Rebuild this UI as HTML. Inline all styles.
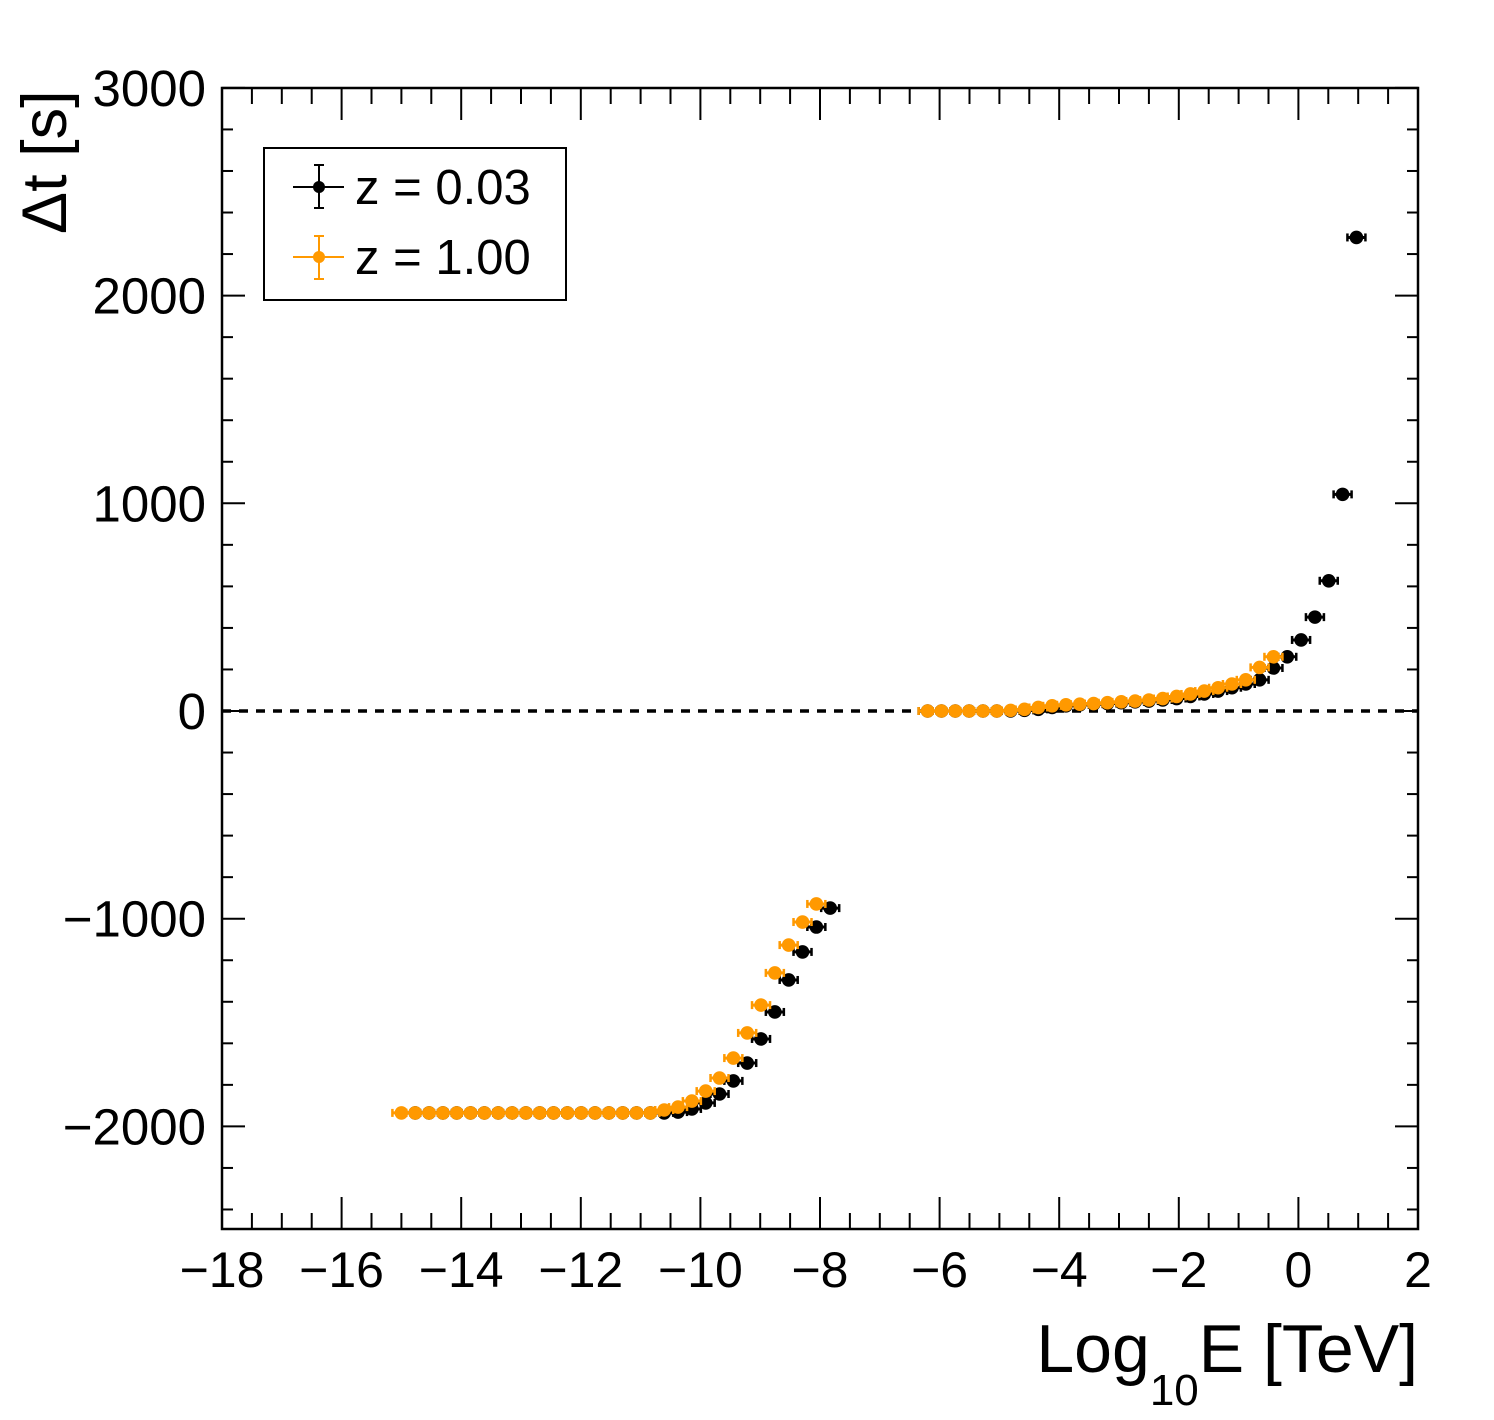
<!DOCTYPE html>
<html><head><meta charset="utf-8"><style>
html,body{margin:0;padding:0;background:#fff;}
svg{display:block;font-family:"Liberation Sans",Arial,sans-serif;}
</style></head><body>
<svg id="chart" width="1494" height="1420" viewBox="0 0 1494 1420">
<g id="grid-layer"></g>
<line x1="222" y1="711" x2="1418" y2="711" stroke="#000" stroke-width="3.5" stroke-dasharray="9,8"/>
<g id="series-layer"></g>
<rect x="222" y="88" width="1196" height="1141" fill="none" stroke="#000" stroke-width="2.5"/>
<text transform="translate(66,234) rotate(-90)" font-size="63">Δt [s]</text>
<text x="1418" y="1372" font-size="68" text-anchor="end">Log<tspan font-size="44" dy="33">10</tspan><tspan dy="-33">E [TeV]</tspan></text>
<g>
<rect x="264" y="148" width="302" height="152" fill="#fff" stroke="#000" stroke-width="2"/>
<g>
<line x1="293" y1="187" x2="344" y2="187" stroke="#000" stroke-width="2"/>
<line x1="319" y1="165" x2="319" y2="208" stroke="#000" stroke-width="2"/>
<line x1="314" y1="165" x2="324" y2="165" stroke="#000" stroke-width="2"/>
<line x1="314" y1="208" x2="324" y2="208" stroke="#000" stroke-width="2"/>
<circle cx="319" cy="187" r="6" fill="#000"/>
<text x="355" y="204" font-size="49">z = 0.03</text>
</g>
<g>
<line x1="293" y1="257" x2="344" y2="257" stroke="#f90" stroke-width="2"/>
<line x1="319" y1="236" x2="319" y2="279" stroke="#f90" stroke-width="2"/>
<line x1="314" y1="236" x2="324" y2="236" stroke="#f90" stroke-width="2"/>
<line x1="314" y1="279" x2="324" y2="279" stroke="#f90" stroke-width="2"/>
<circle cx="319" cy="257" r="6" fill="#f90"/>
<text x="355" y="274" font-size="49">z = 1.00</text>
</g>
</g>
</svg>
<script>
const xTicks = [-18,-16,-14,-12,-10,-8,-6,-4,-2,0,2];
const yTicks = [-2000,-1000,0,1000,2000,3000];
const step = 0.2313;
const lowStartX = -15.0;
const orangeLow = [-1935,-1935,-1935,-1935,-1935,-1935,-1935,-1935,-1935,-1935,-1935,-1935,-1935,-1935,-1935,-1935,-1935,-1935,-1935,-1921,-1907,-1878,-1830,-1767,-1671,-1550,-1416,-1261,-1127,-1016,-929];
const blackLow = [-1935,-1935,-1935,-1935,-1935,-1935,-1935,-1935,-1935,-1935,-1935,-1935,-1935,-1935,-1935,-1935,-1935,-1935,-1935,-1931,-1916,-1887,-1844,-1781,-1695,-1579,-1449,-1295,-1160,-1040,-949];
const highStartX = -6.2;
const orangeHigh = [0,0,0,0,0,0,3,8,17,25,30,33,36,40,44,48,53,60,70,82,96,112,130,150,210,261];
const blackHigh = [0,0,0,0,0,0,0,3,8,17,25,30,33,36,40,44,48,53,60,70,82,96,112,130,150,207,261,342,452,627,1043,2280];

const X0=222,X1=1418,Y0=88,Y1=1229;
function xs(v){return X0+(v+18)/20*(X1-X0);}
function ys(v){return 711-v*0.2077;}
const NS='http://www.w3.org/2000/svg';
function mk(tag,attrs,parent){const e=document.createElementNS(NS,tag);for(const k in attrs)e.setAttribute(k,attrs[k]);parent.appendChild(e);return e;}
const g=document.getElementById('grid-layer');
for(let v=-18;v<=2.0001;v+=0.5){
  const major=Math.abs(v-Math.round(v/2)*2)<1e-6;
  const L=major?32:16,x=xs(v);
  const t1=mk('line',{x1:x,y1:Y1,x2:x,y2:Y1-L,stroke:'#000','stroke-width':2},g);
  
  
  const t2=mk('line',{x1:x,y1:Y0,x2:x,y2:Y0+L,stroke:'#000','stroke-width':2},g);
  
  
}
xTicks.forEach(v=>{
  const t=mk('text',{x:xs(v),y:1287,'font-size':50,'text-anchor':'middle'},g);
  t.textContent=(v<0?'\u2212'+(-v):''+v);
  
  
});
for(let v=-2400;v<=3000;v+=200){
  const major=v%1000===0;
  const L=major?23:11,y=ys(v);
  const t1=mk('line',{x1:X0,y1:y,x2:X0+L,y2:y,stroke:'#000','stroke-width':2},g);
  
  
  const t2=mk('line',{x1:X1,y1:y,x2:X1-L,y2:y,stroke:'#000','stroke-width':2},g);
  
  
}
yTicks.forEach(v=>{
  const t=mk('text',{x:206,y:ys(v)+18,'font-size':51,'text-anchor':'end'},g);
  t.textContent=(v<0?'\u2212'+(-v):''+v);
  
  
});
const s=document.getElementById('series-layer');
function drawSeries(vals,startX,color,name){
  vals.forEach((v,i)=>{
    const x=xs(startX+i*step),y=ys(v);
    const grp=mk('g',{},s);
    
    
    mk('line',{x1:x-9,y1:y,x2:x+9,y2:y,stroke:color,'stroke-width':3},grp);
    mk('line',{x1:x-9,y1:y-4,x2:x-9,y2:y+4,stroke:color,'stroke-width':2.5},grp);
    mk('line',{x1:x+9,y1:y-4,x2:x+9,y2:y+4,stroke:color,'stroke-width':2.5},grp);
    mk('circle',{cx:x,cy:y,r:6.8,fill:color},grp);
  });
}
drawSeries(blackLow,lowStartX+step,'#000','z003-low');
drawSeries(blackHigh,highStartX,'#000','z003-high');
drawSeries(orangeLow,lowStartX,'#f90','z100-low');
drawSeries(orangeHigh,highStartX,'#f90','z100-high');
</script>
</body></html>
